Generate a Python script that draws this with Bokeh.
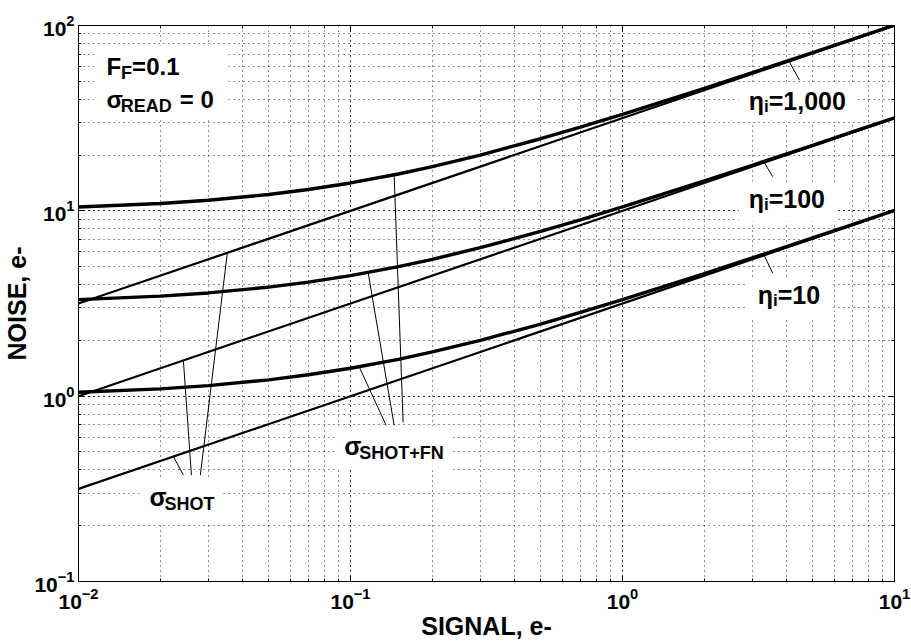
from bokeh.plotting import figure
from bokeh.models import Label, LogAxis, Range1d, LogTicker, CustomJSTickFormatter
from bokeh.embed import file_html
from bokeh.resources import INLINE

# ---- data -----------------------------------------------------------------
# signal axis samples (e-)
signal = [0.01, 0.02, 0.03, 0.05, 0.07, 0.1, 0.15, 0.2, 0.3, 0.5, 0.7,
          1.0, 2.0, 3.0, 5.0, 7.0, 10.0]

# shot + Fano noise (e-) for each quantum yield
noise_fn_10 = [1.049, 1.095, 1.140, 1.225, 1.304, 1.414, 1.581, 1.732, 2.000,
               2.449, 2.828, 3.317, 4.583, 5.568, 7.141, 8.426, 10.05]
noise_fn_100 = [3.317, 3.464, 3.606, 3.873, 4.123, 4.472, 5.000, 5.477, 6.325,
                7.746, 8.944, 10.49, 14.49, 17.61, 22.58, 26.65, 31.78]
noise_fn_1000 = [10.49, 10.95, 11.40, 12.25, 13.04, 14.14, 15.81, 17.32, 20.00,
                 24.49, 28.28, 33.17, 45.83, 55.68, 71.41, 84.26, 100.5]

# shot-noise-only straight lines (end points)
shot_signal = [0.01, 10.0]
noise_shot_10 = [0.3162, 10.0]
noise_shot_100 = [1.0, 31.62]
noise_shot_1000 = [3.162, 100.0]

FONT = "Liberation Sans"

p = figure(width=911, height=642,
           x_axis_type="log", y_axis_type="log",
           x_range=Range1d(0.01, 10), y_range=Range1d(0.1, 100),
           output_backend="svg", toolbar_location=None,
           min_border_left=77, min_border_right=17,
           min_border_top=25, min_border_bottom=58,
           background_fill_color="white", border_fill_color="white")

p.outline_line_color = "black"
p.outline_line_width = 1

# dotted grid, major and minor
for g in (p.xgrid[0], p.ygrid[0]):
    g.grid_line_color = "black"
    g.grid_line_alpha = 0.85
    g.grid_line_dash = "1 4"
    g.minor_grid_line_color = "black"
    g.minor_grid_line_alpha = 0.85
    g.minor_grid_line_dash = "1 4"

def style_axis(ax):
    ax.major_tick_in = 6
    ax.major_tick_out = 0
    ax.minor_tick_in = 3
    ax.minor_tick_out = 0
    ax.axis_line_color = "black"
    ax.major_tick_line_color = "black"
    ax.minor_tick_line_color = "black"
    ax.major_label_text_font = FONT
    ax.major_label_text_font_style = "bold"
    ax.major_label_text_color = "black"
    ax.major_label_text_font_size = "21px"
    ax.axis_label_text_font = FONT
    ax.axis_label_text_font_style = "bold"
    ax.axis_label_text_font_size = "25px"
    ax.axis_label_text_color = "black"

style_axis(p.xaxis[0])
style_axis(p.yaxis[0])
p.xaxis[0].axis_label = "SIGNAL, e-"
p.yaxis[0].axis_label = "NOISE, e-"
p.xaxis[0].major_label_standoff = 6
p.yaxis[0].major_label_standoff = 4
p.xaxis[0].axis_label_standoff = 0
p.yaxis[0].axis_label_standoff = 0

# tick marks only on the top and right edges
blank = CustomJSTickFormatter(code="return ''")
top_ax = LogAxis(ticker=LogTicker(), formatter=blank)
right_ax = LogAxis(ticker=LogTicker(), formatter=blank)
style_axis(top_ax)
style_axis(right_ax)
top_ax.major_label_standoff = 0
right_ax.major_label_standoff = 0
p.add_layout(top_ax, "above")
p.add_layout(right_ax, "right")

# white panels behind the annotations
box_left = [0.01145, 2.675, 2.675, 2.886, 0.01675, 0.08858]
box_right = [0.03555, 7.378, 6.177, 5.921, 0.03407, 0.2382]
box_top = [78.1, 49.45, 14.37, 4.335, 0.3616, 0.6875]
box_bottom = [31.7, 30.16, 8.767, 2.644, 0.2073, 0.3991]
p.quad(left=box_left, right=box_right, top=box_top, bottom=box_bottom,
       fill_color="white", line_color=None)

# curves
for ys in (noise_fn_10, noise_fn_100, noise_fn_1000):
    p.line(signal, ys, line_color="black", line_width=3.4)
for ys in (noise_shot_10, noise_shot_100, noise_shot_1000):
    p.line(shot_signal, ys, line_color="black", line_width=2.2)

# leader lines from the labels to the curves
lead_x0 = [0.02430, 0.02601, 0.02805, 0.1352, 0.1447, 0.1561, 4.479, 3.565, 3.565]
lead_y0 = [0.3751, 0.3751, 0.3751, 0.6959, 0.6959, 0.7224, 50.68, 15.29, 4.610]
lead_x1 = [0.02233, 0.02430, 0.03525, 0.1076, 0.1161, 0.1447, 4.081, 3.304, 3.304]
lead_y1 = [0.4726, 1.559, 5.937, 1.441, 4.649, 15.64, 64.66, 18.45, 5.834]
p.segment(x0=lead_x0, y0=lead_y0, x1=lead_x1, y1=lead_y1,
          line_color="black", line_width=1)

# approximate advance widths (em) of the bold sans face, used to chain runs
ADV = {"F": 0.611, "=": 0.584, "0": 0.556, "1": 0.556, ".": 0.278, ",": 0.278,
       " ": 0.278, "σ": 0.60, "η": 0.611, "i": 0.278, "R": 0.722, "E": 0.667,
       "A": 0.722, "D": 0.722, "S": 0.667, "H": 0.722, "O": 0.778, "T": 0.611,
       "+": 0.584, "N": 0.722}

LIFT = 9  # baseline correction in px

def rich_label(x, y, parts):
    """Place a run of text pieces (text, size_px, baseline_shift_px, gap_px)."""
    off = 0.0
    for text, size, dy, gap in parts:
        off += gap
        p.add_layout(Label(x=x, y=y, x_offset=off, y_offset=dy + LIFT, text=text,
                           text_font=FONT, text_font_size=f"{size}px",
                           text_font_style="bold", text_color="black",
                           text_align="left", text_baseline="alphabetic"))
        off += sum(ADV.get(c, 0.6) for c in text) * size

rich_label(0.01267, 53.9, [("F", 24, 0, 0), ("F", 18, -7, 0), ("=0.1", 24, 0, 0)])
rich_label(0.01267, 35.86, [("σ", 24, 0, 0), ("READ", 18, -7, 0), ("= 0", 24, 0, 8)])
rich_label(2.910, 35.0, [("η", 25, 0, 0), ("i", 17, -6, 0), ("=1,000", 25, 0, 0)])
rich_label(2.910, 10.42, [("η", 25, 0, 0), ("i", 17, -6, 0), ("=100", 25, 0, 0)])
rich_label(3.141, 3.144, [("η", 25, 0, 0), ("i", 17, -6, 0), ("=10", 25, 0, 0)])
rich_label(0.01823, 0.2558, [("σ", 25, 0, 0), ("SHOT", 18, -7, 0)])
rich_label(0.09479, 0.4803, [("σ", 25, 0, 0), ("SHOT+FN", 18, -7, 0)])

open("out.html", "w").write(file_html(p, INLINE))
